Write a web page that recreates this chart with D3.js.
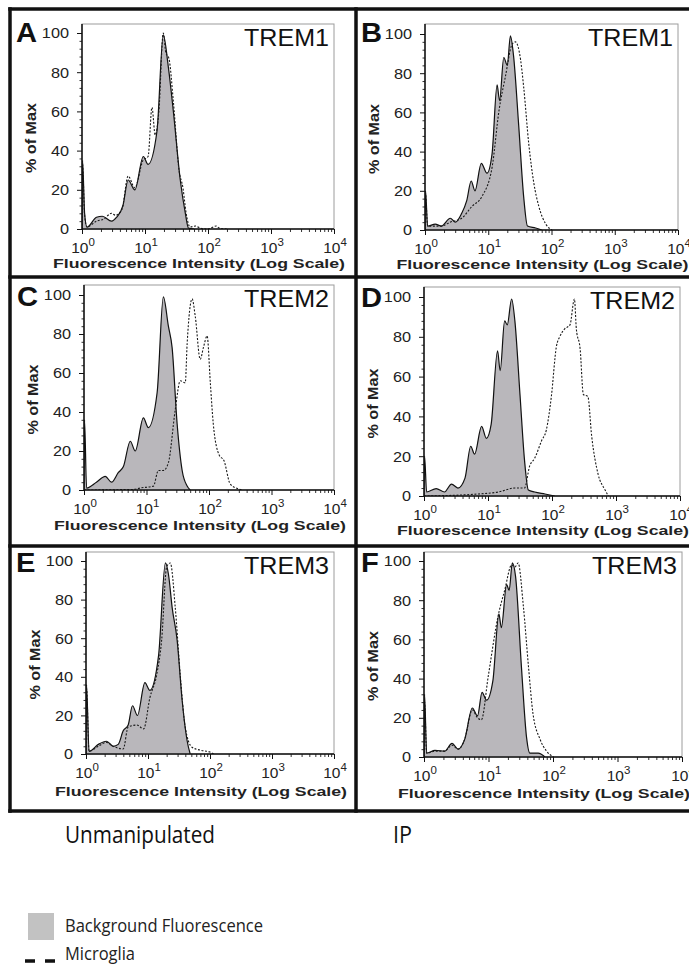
<!DOCTYPE html>
<html><head><meta charset="utf-8">
<script src="https://cdn.jsdelivr.net/npm/d3@7"></script>
<style>body{margin:0;background:#fff}svg{display:block}</style>
</head><body>
<script>
// ---------- data ----------
const panelLetters = ["A","B","C","D","E","F"];
const markerLabels = ["TREM1","TREM1","TREM2","TREM2","TREM3","TREM3"];
const columnLabels = ["Unmanipulated","IP"];
const legendLabels = ["Background Fluorescence","Microglia"];
const yTickValues = [0,20,40,60,80,100];
const xTickExponents = [0,1,2,3,4];
const yAxisTitle = "% of Max";
const xAxisTitle = "Fluorescence Intensity (Log Scale)";

// [fluorescence intensity, % of max]
const bgA = [[1,0],[1.02,35],[1.1,8],[1.2,1],[1.7,6],[2.1,6.5],[2.95,4],[3.55,6],[4.47,12],[5.4,25],[6.9,20],[9.4,37],[11.2,33],[15.5,50],[19.5,99],[23.4,83],[28.2,60],[36.3,25],[43.7,8],[49,0.5],[60,0]];
const mgA = [[1,0],[1.02,33],[1.1,7],[1.2,1],[1.7,4],[2.2,5],[2.95,8],[3.4,7],[4.3,10],[5.4,27],[6.9,21],[9.3,35],[11.2,37],[12.9,62],[14.5,48],[16.6,60],[19.5,100],[21.4,90],[24,87],[28.2,65],[34.7,30],[40,21],[45,8],[52,1],[63,1.5],[75,0.5],[100,0],[135,1.5],[150,0.5],[200,0]];
const bgB = [[1,0],[1.02,20],[1.1,2],[1.45,3],[1.82,2],[2.51,6],[3.02,4],[3.8,8.5],[4.57,15],[5.37,25],[6.17,20],[7.76,34],[9.55,29],[11.5,39],[13.8,74],[15.1,66],[17.6,88],[20,84],[22.4,99],[25.1,89],[30.2,54],[36.3,17],[41.7,2],[56,1],[70,0]];
const mgB = [[1,0],[1.02,18],[1.1,2],[1.8,2],[2.5,4],[3.8,6],[5.5,12],[7.9,17],[11.5,32],[14.8,61],[18.6,78],[24,95],[26.9,96],[32.4,87],[36.3,73],[43.7,44],[52.5,24],[63.1,12],[81.3,3],[102,0]];
const bgC = [[1,0],[1.02,36],[1.1,1],[1.58,4],[2.19,7],[2.75,4],[3.55,9],[4.27,12],[5.5,25],[6.61,20],[8.91,37],[10.7,32],[14.8,50],[18.6,99],[22.4,84],[25.7,73],[30.9,34],[37.2,10],[44.7,2],[50.1,0]];
const mgC = [[1,0],[6.2,0.3],[7.9,1],[12.9,2],[15.5,10],[18.6,10],[22.4,14],[28.8,41],[34.7,56],[41.7,55],[44.7,75],[53.7,98],[60.3,89],[72.4,67],[81.3,73],[93.3,79],[105,55],[117,34],[145,18],[174,15],[219,3],[302,0.5],[350,0]];
const bgD = [[1,0],[1.02,20],[1.1,2],[1.55,3.7],[2.09,2],[2.69,6],[3.39,4],[4.37,9],[5.37,25],[6.17,21],[7.94,35],[9.44,29],[11.2,36],[14.1,73],[15.5,63],[18.2,88],[20,86],[23.4,99],[26.3,88],[31.6,51],[37.2,18],[42.7,3],[53.7,2],[77.6,1],[110,0]];
const mgD = [[1,0],[7.08,1],[14.5,2],[26.3,4],[37.2,4],[44.7,15],[53.7,19],[69.2,28],[81.3,33],[97.7,50],[117,75],[132,80],[158,84],[191,86],[224,99],[240,84],[275,74],[309,51],[363,50],[417,30],[525,11],[676,3],[759,0]];
const bgE = [[1,0],[1.02,36],[1.12,1.4],[1.58,5],[2.14,6.6],[2.75,4],[3.31,5],[3.98,12],[4.79,15],[5.62,25],[6.76,20],[8.91,37],[10.7,33],[14.8,51],[19.1,99],[21.4,93],[24.5,76],[29.5,59],[35.5,28],[42.7,7],[47.9,0]];
const mgE = [[1,0],[1.02,34],[1.12,1.5],[1.58,4],[2.14,6],[2.75,4],[3.98,2.6],[4.79,14],[6.61,15],[8.51,13],[10.7,29],[13.8,41],[16.6,59],[20,97],[22.9,99],[27.5,76],[33.1,41],[39.8,14],[51.3,3.5],[69.2,2],[100,1],[115,0]];
const bgF = [[1,0],[1.02,32],[1.1,2],[1.48,3.4],[2.09,3],[2.72,7],[3.39,4],[4.27,9],[5.62,25],[6.76,21],[7.94,33],[9.33,29],[11.7,39],[14.5,73],[15.8,66],[19.1,88],[20.9,85],[23.4,99],[26.3,92],[32.4,46],[38.9,10],[43.7,2],[58.9,2],[75,0]];
const mgF = [[1,0],[1.02,28],[1.1,2],[1.48,3],[2.09,3],[2.72,6],[3.39,4],[4.27,9],[5.62,24],[6.76,20],[7.76,19],[9.89,41],[14.1,72],[17.8,85],[22.9,98],[25.7,97],[28.8,99],[34.7,77],[41.7,46],[49,22],[63.1,9],[79.4,3],[102,0]];

const bgSeries = [bgA,bgB,bgC,bgD,bgE,bgF];
const mgSeries = [mgA,mgB,mgC,mgD,mgE,mgF];

// ---------- layout ----------
const W = 689, H = 966;
const layout = [
  {x0:82, x1:334, yTop:24, y100:33, y0:229, lx:16, ly:42, tOff:39},
  {x0:425,x1:678, yTop:24, y100:34, y0:230, lx:361,ly:42, tOff:39},
  {x0:84, x1:334, yTop:285,y100:295,y0:490, lx:17, ly:306, tOff:40},
  {x0:424,x1:680, yTop:287,y100:297,y0:496, lx:361,ly:307, tOff:39},
  {x0:86, x1:334, yTop:552,y100:561,y0:754, lx:16, ly:572, tOff:42},
  {x0:424,x1:682, yTop:552,y100:561,y0:757, lx:361,ly:572, tOff:41}
];
const SANS = "'Liberation Sans', Arial, sans-serif";
const HUM = "'Open Sans', 'Noto Sans', sans-serif";
const FILL = "#b9b7bb";

const svg = d3.select("body").append("svg").attr("width",W).attr("height",H);
svg.append("rect").attr("width",W).attr("height",H).attr("fill","#fff");

function fitWidth(sel, w){
  sel.each(function(){
    this.setAttribute("textLength", w);
    this.setAttribute("lengthAdjust","spacingAndGlyphs");
  });
}
function stretch(sel, k){
  sel.each(function(){
    const l = this.getComputedTextLength();
    this.setAttribute("textLength", l*k);
    this.setAttribute("lengthAdjust","spacingAndGlyphs");
  });
}

const defs = svg.append("defs");

layout.forEach((L,i)=>{
  const x = d3.scaleLog().domain([1,1e4]).range([L.x0,L.x1]);
  const y = d3.scaleLinear().domain([0,100]).range([L.y0,L.y100]);
  const g = svg.append("g");

  g.append("rect").attr("x",L.x0).attr("y",L.yTop)
    .attr("width",L.x1-L.x0).attr("height",L.y0-L.yTop)
    .attr("fill","#fff").attr("stroke","#9c9c9c").attr("stroke-width",1);

  defs.append("clipPath").attr("id","clip"+i).append("rect")
    .attr("x",L.x0).attr("y",L.yTop).attr("width",L.x1-L.x0).attr("height",L.y0-L.yTop);

  const area = d3.area().x(d=>x(d[0])).y0(L.y0).y1(d=>y(d[1])).curve(d3.curveMonotoneX);
  const line = d3.line().x(d=>x(d[0])).y(d=>y(d[1])).curve(d3.curveMonotoneX);
  const pg = g.append("g").attr("clip-path",`url(#clip${i})`);
  pg.append("path").datum(bgSeries[i]).attr("d",area).attr("fill",FILL);
  pg.append("path").datum(bgSeries[i]).attr("d",line).attr("fill","none")
    .attr("stroke","#111").attr("stroke-width",1.2).attr("stroke-linejoin","round");
  pg.append("path").datum(mgSeries[i]).attr("d",line).attr("fill","none")
    .attr("stroke","#1a1a1a").attr("stroke-width",1.1).attr("stroke-dasharray","2,1.6");

  // y axis
  const yMinor = d3.range(0,101,4).filter(v=>v%20!==0);
  g.append("g").attr("transform",`translate(${L.x0},0)`)
    .call(d3.axisLeft(y).tickValues(yMinor).tickSize(2.5).tickFormat(""))
    .call(a=>a.select(".domain").remove())
    .selectAll("line").attr("stroke","#333");
  const ya = g.append("g").attr("transform",`translate(${L.x0},0)`)
    .call(d3.axisLeft(y).tickValues(yTickValues).tickSize(5).tickPadding(8))
    .call(a=>a.select(".domain").remove());
  ya.selectAll("line").attr("stroke","#111");
  ya.selectAll("text").attr("font-family",SANS).attr("font-size",15.5).attr("fill","#222")
    .call(stretch,1.05);

  // x axis
  const xMinor = x.ticks().filter(v=>Math.abs(Math.log10(v)-Math.round(Math.log10(v)))>1e-6);
  g.append("g").attr("transform",`translate(0,${L.y0})`)
    .call(d3.axisBottom(x).tickValues(xMinor).tickSize(3).tickFormat(""))
    .call(a=>a.select(".domain").remove())
    .selectAll("line").attr("stroke","#333");
  g.append("g").attr("transform",`translate(0,${L.y0})`)
    .call(d3.axisBottom(x).tickValues(xTickExponents.map(e=>Math.pow(10,e))).tickSize(5).tickFormat(""))
    .call(a=>a.select(".domain").remove())
    .selectAll("line").attr("stroke","#111");

  // axis lines
  g.append("line").attr("x1",L.x0).attr("x2",L.x0).attr("y1",L.yTop).attr("y2",L.y0+0.5)
    .attr("stroke","#111").attr("stroke-width",1.5);
  g.append("line").attr("x1",L.x0).attr("x2",L.x1).attr("y1",L.y0).attr("y2",L.y0)
    .attr("stroke","#111").attr("stroke-width",1.5);

  // x tick labels 10^k
  xTickExponents.forEach(e=>{
    const t = g.append("text").attr("x",x(Math.pow(10,e))+1).attr("y",L.y0+24)
      .attr("text-anchor","middle").attr("font-family",SANS).attr("font-size",15.5).attr("fill","#222");
    t.append("tspan").text("10");
    t.append("tspan").attr("dy",-7).attr("font-size",11.5).text(String(e));
  });

  // axis titles
  g.append("text").attr("x",(L.x0+L.x1)/2-9).attr("y",L.y0+L.tOff).attr("text-anchor","middle")
    .attr("font-family",SANS).attr("font-weight","bold").attr("font-size",13).attr("fill","#222")
    .text(xAxisTitle).call(fitWidth,292);
  const cy = (L.y100+L.y0)/2+7, cx = L.x0-46.5;
  g.append("text").attr("transform",`translate(${cx},${cy}) rotate(-90)`).attr("text-anchor","middle")
    .attr("font-family",SANS).attr("font-weight","bold").attr("font-size",15).attr("fill","#222")
    .text(yAxisTitle).call(fitWidth,70);

  // marker label
  g.append("text").attr("x",L.x1-5).attr("y",L.yTop+22).attr("text-anchor","end")
    .attr("font-family",SANS).attr("font-size",23).attr("fill","#111")
    .text(markerLabels[i]).call(fitWidth,85);

  // panel letter
  g.append("text").attr("x",L.lx).attr("y",L.ly)
    .attr("font-family",SANS).attr("font-weight","bold").attr("font-size",27).attr("fill","#111")
    .text(panelLetters[i]).call(stretch,1.08);
});

// frame
const frame = svg.append("g").attr("stroke","#111").attr("stroke-width",3.5).attr("fill","none");
[9,277,546,811].forEach(yy=>frame.append("line").attr("x1",8.25).attr("x2",W+5).attr("y1",yy).attr("y2",yy));
[10,356].forEach(xx=>frame.append("line").attr("x1",xx).attr("x2",xx).attr("y1",7.25).attr("y2",812.75));

// column labels
svg.append("text").attr("x",65).attr("y",843).attr("font-family",HUM).attr("font-size",23).attr("fill","#111")
  .text(columnLabels[0]).call(fitWidth,150);
svg.append("text").attr("x",393).attr("y",843).attr("font-family",HUM).attr("font-size",23).attr("fill","#111")
  .text(columnLabels[1]).call(fitWidth,19);

// legend
svg.append("rect").attr("x",28).attr("y",913).attr("width",26).attr("height",27).attr("fill","#c2c2c2");
svg.append("text").attr("x",65).attr("y",932).attr("font-family",HUM).attr("font-size",19).attr("fill","#222")
  .text(legendLabels[0]).call(fitWidth,198);
svg.append("line").attr("x1",25).attr("x2",55).attr("y1",961).attr("y2",961)
  .attr("stroke","#111").attr("stroke-width",3.5).attr("stroke-dasharray","10,10");
svg.append("text").attr("x",65).attr("y",960).attr("font-family",HUM).attr("font-size",18.5).attr("fill","#222")
  .text(legendLabels[1]).call(fitWidth,70);
</script>
</body></html>
